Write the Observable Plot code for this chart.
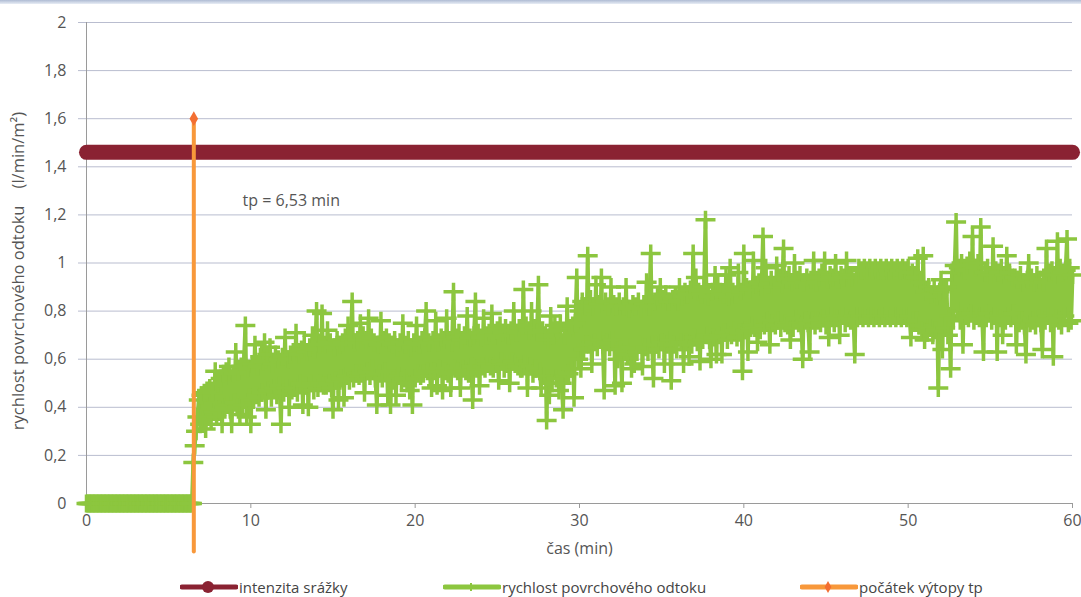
<!DOCTYPE html>
<html>
<head>
<meta charset="utf-8">
<script src="https://cdn.jsdelivr.net/npm/d3@7"></script>
<script src="https://cdn.jsdelivr.net/npm/@observablehq/plot@0.6"></script>
<style>
  body { margin: 0; background: #fff; }
  #wrap { position: relative; width: 1081px; height: 597px; overflow: hidden;
          font-family: "Open Sans", "DejaVu Sans", sans-serif; }
  #topband { position: absolute; left: 0; top: 0; width: 1081px; height: 4px;
             background: linear-gradient(to bottom, #aebbd3, #e8edf5); }
  #legend { position: absolute; left: 0; top: 576px; width: 1081px; height: 22px; }
  .item { position: absolute; top: 0; height: 22px; display: flex; align-items: center;
          font-size: 15px; color: #444; white-space: nowrap; }
  .item svg { display: block; margin-right: 1px; }
</style>
</head>
<body>
<div id="wrap">
  <div id="topband"></div>
  <div id="chart"></div>
  <div id="legend"></div>
</div>
<script>
// Surface runoff rate (l/min/m²), one sample every 5 s starting at t = 0 min
const sampleStep = 1 / 12;
const runoff = [
  // 0 – 6.42 min: no runoff before ponding
  0, 0, 0, 0, 0, 0, 0, 0, 0, 0, 0, 0, 0, 0, 0, 0, 0, 0, 0, 0, 0, 0, 0, 0, 0, 0,
  0, 0, 0, 0, 0, 0, 0, 0, 0, 0, 0, 0, 0, 0, 0, 0, 0, 0, 0, 0, 0, 0, 0, 0, 0, 0,
  0, 0, 0, 0, 0, 0, 0, 0, 0, 0, 0, 0, 0, 0, 0, 0, 0, 0, 0, 0, 0, 0, 0, 0, 0, 0,
  // 6.5 min
  0.17, 0.24, 0.30, 0.36, 0.43, 0.33, 0.45, 0.35, 0.46, 0.31, 0.47, 0.36,
  0.48, 0.35, 0.46, 0.38, 0.55, 0.36, 0.50, 0.39, 0.52, 0.33, 0.54, 0.40,
  // 8.5 min
  0.55, 0.41, 0.57, 0.39, 0.33, 0.54, 0.42, 0.63, 0.40, 0.55, 0.37, 0.57,
  0.41, 0.59, 0.74, 0.36, 0.56, 0.44, 0.33, 0.58, 0.43, 0.66, 0.45, 0.57,
  // 10.5 min
  0.44, 0.61, 0.46, 0.59, 0.67, 0.39, 0.62, 0.47, 0.65, 0.44, 0.58, 0.48,
  0.62, 0.45, 0.60, 0.49, 0.33, 0.61, 0.46, 0.69, 0.48, 0.60, 0.40, 0.62,
  // 12.5 min
  0.47, 0.63, 0.48, 0.71, 0.46, 0.62, 0.50, 0.64, 0.41, 0.66, 0.49, 0.63,
  0.40, 0.65, 0.50, 0.70, 0.47, 0.64, 0.80, 0.48, 0.66, 0.50, 0.79, 0.49,
  // 14.5 min
  0.66, 0.49, 0.72, 0.50, 0.67, 0.48, 0.39, 0.65, 0.51, 0.68, 0.43, 0.66,
  0.52, 0.67, 0.44, 0.69, 0.53, 0.74, 0.51, 0.68, 0.84, 0.52, 0.67, 0.54,
  // 16.5 min
  0.68, 0.53, 0.75, 0.54, 0.70, 0.46, 0.68, 0.55, 0.77, 0.53, 0.69, 0.56,
  0.67, 0.52, 0.41, 0.66, 0.54, 0.76, 0.52, 0.68, 0.55, 0.69, 0.45, 0.67,
  // 18.5 min
  0.41, 0.66, 0.51, 0.68, 0.45, 0.65, 0.53, 0.67, 0.51, 0.75, 0.52, 0.66,
  0.50, 0.68, 0.47, 0.65, 0.41, 0.67, 0.52, 0.74, 0.54, 0.66, 0.53, 0.68,
  // 20.5 min
  0.54, 0.69, 0.80, 0.55, 0.67, 0.53, 0.48, 0.68, 0.55, 0.76, 0.49, 0.67,
  0.56, 0.69, 0.47, 0.68, 0.55, 0.77, 0.54, 0.68, 0.48, 0.67, 0.88, 0.56,
  // 22.5 min
  0.69, 0.55, 0.71, 0.48, 0.68, 0.56, 0.70, 0.55, 0.78, 0.54, 0.69, 0.57,
  0.43, 0.70, 0.84, 0.56, 0.71, 0.49, 0.69, 0.57, 0.77, 0.56, 0.70, 0.58,
  // 24.5 min
  0.71, 0.57, 0.79, 0.56, 0.70, 0.58, 0.72, 0.51, 0.74, 0.59, 0.71, 0.56,
  0.73, 0.58, 0.70, 0.50, 0.72, 0.59, 0.80, 0.58, 0.71, 0.57, 0.73, 0.56,
  // 26.5 min
  0.56, 0.89, 0.58, 0.74, 0.48, 0.72, 0.57, 0.80, 0.54, 0.73, 0.56, 0.71,
  0.91, 0.55, 0.48, 0.72, 0.53, 0.70, 0.345, 0.68, 0.45, 0.78, 0.50, 0.70,
  // 28.5 min
  0.74, 0.52, 0.72, 0.47, 0.75, 0.50, 0.39, 0.70, 0.53, 0.82, 0.54, 0.73,
  0.56, 0.74, 0.44, 0.75, 0.94, 0.60, 0.80, 0.56, 0.84, 0.64, 0.82, 0.66,
  // 30.5 min
  1.03, 0.66, 0.85, 0.58, 0.82, 0.67, 0.91, 0.65, 0.83, 0.68, 0.94, 0.66,
  0.47, 0.84, 0.67, 0.82, 0.65, 0.90, 0.68, 0.83, 0.49, 0.82, 0.60, 0.84,
  // 32.5 min
  0.64, 0.50, 0.82, 0.63, 0.90, 0.62, 0.81, 0.65, 0.56, 0.83, 0.58, 0.82,
  0.63, 0.84, 0.66, 0.81, 0.57, 0.83, 0.65, 0.92, 0.63, 0.82, 1.04, 0.66,
  // 34.5 min
  0.52, 0.84, 0.66, 0.86, 0.64, 0.90, 0.67, 0.85, 0.58, 0.87, 0.66, 0.84,
  0.68, 0.51, 0.85, 0.66, 0.86, 0.64, 0.84, 0.90, 0.67, 0.86, 0.58, 0.88,
  // 36.5 min
  0.67, 0.87, 0.61, 0.89, 0.66, 1.04, 0.69, 0.94, 0.67, 0.88, 0.59, 0.87,
  0.68, 0.90, 1.18, 0.70, 0.86, 0.68, 0.60, 0.88, 0.69, 0.95, 0.62, 0.91,
  // 38.5 min
  0.70, 0.88, 0.62, 0.87, 0.71, 0.95, 0.68, 0.86, 0.98, 0.70, 0.88, 0.72,
  0.87, 0.69, 0.96, 0.71, 0.88, 0.55, 1.04, 0.72, 0.90, 0.63, 0.89, 0.73,
  // 40.5 min
  0.74, 1.01, 0.73, 0.91, 0.67, 0.92, 0.72, 0.90, 1.11, 0.74, 0.98, 0.76,
  0.91, 0.66, 0.93, 0.75, 0.90, 0.74, 0.99, 0.76, 0.94, 0.73, 0.91, 1.06,
  // 42.5 min
  0.75, 0.93, 0.74, 0.95, 0.68, 0.92, 0.73, 1.00, 0.77, 0.93, 0.75, 0.95,
  0.74, 0.60, 0.92, 0.76, 0.94, 0.75, 0.63, 0.93, 0.76, 1.01, 0.74, 0.92,
  // 44.5 min
  0.76, 0.94, 0.75, 0.96, 0.77, 1.01, 0.74, 0.93, 0.69, 0.95, 0.78, 0.94,
  0.75, 1.00, 0.77, 0.93, 0.70, 0.95, 0.78, 0.94, 0.75, 1.01, 0.77, 0.95,
  // 46.5 min
  0.76, 0.94, 0.78, 0.62, 0.95, 0.77, 0.98, 0.78, 0.97, 0.77, 0.98, 0.78,
  0.97, 0.77, 0.98, 0.78, 0.97, 0.77, 0.98, 0.78, 0.97, 0.77, 0.98, 0.78,
  // 48.5 min
  0.97, 0.77, 0.98, 0.78, 0.97, 0.77, 0.98, 0.78, 0.97, 0.77, 0.98, 0.78,
  0.97, 0.77, 0.98, 0.78, 0.97, 0.77, 0.98, 0.78, 0.69, 0.96, 0.76, 0.94,
  // 50.5 min
  0.76, 1.02, 0.74, 0.92, 0.72, 1.03, 0.68, 0.88, 0.71, 0.90, 0.73, 0.87,
  0.70, 0.89, 0.72, 0.86, 0.48, 0.88, 0.93, 0.64, 0.89, 0.73, 0.90, 0.70,
  // 52.5 min
  0.78, 0.56, 0.96, 0.77, 0.99, 1.17, 0.80, 0.98, 0.76, 1.00, 0.66, 0.97,
  0.78, 0.99, 0.77, 1.01, 0.79, 1.11, 0.76, 0.98, 0.78, 1.00, 0.77, 1.15,
  // 54.5 min
  0.78, 0.63, 0.96, 0.77, 0.98, 0.79, 0.95, 0.76, 1.07, 0.78, 0.97, 0.63,
  0.96, 0.77, 0.98, 0.70, 0.95, 0.76, 1.03, 0.78, 0.96, 0.77, 0.94, 0.79,
  // 56.5 min
  0.94, 0.66, 0.93, 0.75, 0.95, 0.76, 0.92, 0.74, 0.62, 0.93, 1.00, 0.75,
  0.94, 0.76, 0.92, 0.74, 0.95, 0.77, 0.93, 0.75, 0.64, 0.92, 0.76, 1.06,
  // 58.5 – 60 min
  0.78, 0.96, 0.75, 0.97, 0.61, 0.95, 0.77, 1.09, 0.76, 0.98, 0.74, 0.96,
  0.78, 0.97, 1.10, 0.75, 0.98, 0.76, 0.95
];

// Rainfall intensity (constant over the whole experiment)
const rainTime = [0, 60];
const rainIntensity = [1.46, 1.46];

// Start of ponding, tp, shown as a vertical marker line
const tp = 6.53;
const tpLineY = [-0.2, 1.6];
const tpLabelAt = [9.5, 1.26];

const xTicks = [0, 10, 20, 30, 40, 50, 60];
const yTicks = [0, 0.2, 0.4, 0.6, 0.8, 1, 1.2, 1.4, 1.6, 1.8, 2];
const yTickLabels = ["0", "0,2", "0,4", "0,6", "0,8", "1", "1,2", "1,4", "1,6", "1,8", "2"];

const seriesNames = ["intenzita srážky", "rychlost povrchového odtoku", "počátek výtopy tp"];
const seriesColors = ["#8a2232", "#8cc63f", "#f8983a"];

const xLabel = "čas (min)";
const yLabel = "rychlost povrchového odtoku\u00a0\u00a0\u00a0\u00a0(l/min/m²)";

// Tables for the marks
const runoffData = runoff.map((v, i) => ({t: i * sampleStep, v}));
const rainData = rainTime.map((t, i) => ({t, v: rainIntensity[i]}));
const tpData = tpLineY.map(v => ({t: tp, v}));
const tpLabel = `tp = ${String(tp).replace(".", ",")} min`;

// "+" marker with a wide horizontal bar
const plusMarker = {
  draw(context) {
    context.moveTo(-10, 0); context.lineTo(10, 0);
    context.moveTo(0, -9); context.lineTo(0, 9);
  }
};

const gridColor = "#b9bdcf";
const axisColor = "#9a9a9a";
const textColor = "#555";
const fontStack = '"Open Sans", "DejaVu Sans", sans-serif';

const chart = Plot.plot({
  width: 1081,
  height: 566,
  marginLeft: 86,
  marginRight: 9,
  marginTop: 22,
  marginBottom: 63,
  style: {
    fontFamily: fontStack,
    fontSize: "16px",
    color: textColor,
    background: "transparent",
    overflow: "visible"
  },
  x: {domain: [0, 60]},
  y: {domain: [0, 2]},
  marks: [
    Plot.gridY(yTicks, {stroke: gridColor, strokeOpacity: 1, strokeWidth: 1}),
    Plot.axisY(yTicks, {
      tickSize: 8, tickPadding: 12, stroke: gridColor,
      tickFormat: d => yTickLabels[yTicks.indexOf(d)],
      fill: textColor, label: null
    }),
    Plot.text([yLabel], {
      frameAnchor: "left", rotate: -90, dx: -68, dy: 8,
      fontSize: 16.5, fill: textColor, textAnchor: "middle"
    }),
    Plot.axisX(xTicks, {
      tickSize: 5, tickPadding: 6, stroke: axisColor, fill: textColor,
      label: xLabel, labelAnchor: "center", labelOffset: 50, labelArrow: "none"
    }),
    Plot.ruleX([0], {stroke: axisColor}),
    Plot.ruleY([0], {stroke: axisColor}),
    Plot.text([tpLabel], {
      x: tpLabelAt[0], y: tpLabelAt[1], textAnchor: "start",
      fontSize: 16, fill: textColor
    }),
    Plot.line(rainData, {
      x: "t", y: "v", stroke: seriesColors[0], strokeWidth: 15, strokeLinecap: "round"
    }),
    Plot.line(runoffData, {
      x: "t", y: "v", stroke: seriesColors[1], strokeWidth: 4, strokeLinejoin: "round"
    }),
    Plot.dot(runoffData, {
      x: "t", y: "v", symbol: plusMarker, r: 5,
      stroke: seriesColors[1], strokeWidth: 3.5, fill: "none"
    }),
    Plot.line(tpData, {
      x: "t", y: "v", stroke: seriesColors[2], strokeWidth: 4, strokeLinecap: "round"
    }),
    Plot.dot(tpData.filter(d => d.v > 0), {
      x: "t", y: "v", symbol: "diamond", r: 4.5, fill: "#f36f32", stroke: "none"
    })
  ]
});
document.getElementById("chart").append(chart);

// Legend row below the chart
const legendItems = [
  {left: 180, marker: "circle"},
  {left: 443, marker: "plus"},
  {left: 800, marker: "diamond"}
];
const legend = d3.select("#legend");
legendItems.forEach((it, i) => {
  const item = legend.append("div").attr("class", "item").style("left", it.left + "px");
  const svg = item.append("svg").attr("width", 58).attr("height", 22);
  svg.append("line").attr("x1", 2).attr("x2", 56).attr("y1", 11).attr("y2", 11)
    .attr("stroke", seriesColors[i]).attr("stroke-width", 5).attr("stroke-linecap", "round");
  if (it.marker === "circle") {
    svg.append("circle").attr("cx", 28).attr("cy", 11).attr("r", 6).attr("fill", seriesColors[i]);
  } else if (it.marker === "plus") {
    svg.append("path").attr("d", "M28,7V15").attr("stroke", seriesColors[i]).attr("stroke-width", 2);
  } else {
    svg.append("path").attr("d", d3.symbol(d3.symbolDiamond, 40)()).attr("transform", "translate(28,11)")
      .attr("fill", "#f36f32");
  }
  item.append("span").text(seriesNames[i]);
});
</script>
</body>
</html>
